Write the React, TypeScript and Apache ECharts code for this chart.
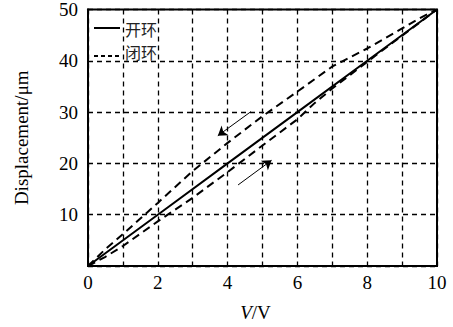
import React, { useEffect, useRef } from "react";
import * as echarts from "echarts";

const openV = [0, 2, 4, 6, 8, 10];
const openD = [0, 10, 20, 30, 40, 50];

const upV = [0, 0.5, 1, 2, 3, 4, 5, 6, 7, 8, 9, 9.5, 10];
const upD = [0, 3.3, 6.2, 12.3, 18.5, 24, 29.2, 34, 38.9, 42.4, 46.3, 48.3, 50];

const lowV = [0, 0.5, 1, 2, 3, 4, 5, 6, 6.5, 7, 8, 9, 10];
const lowD = [0, 1.8, 3.9, 8.7, 13.3, 18.3, 23.5, 28.6, 31.8, 34.6, 39.8, 44.9, 50];

const arrowDown = [[4.67, 30.1], [3.72, 25.4]];
const arrowUp = [[4.3, 15.8], [5.26, 20.6]];

const seriesNames = ["开环", "闭环"];

const zip = (xs: number[], ys: number[]) => xs.map((x, i) => [x, ys[i]]);

export default function App() {
  const ref = useRef<HTMLDivElement>(null);
  useEffect(() => {
    document.body.style.margin = "0";
    if (!ref.current) return;
    const chart = echarts.init(ref.current, undefined, { renderer: "svg" });
    const serif = "'Liberation Serif', 'Times New Roman', serif";
    const cjk = "Noto Sans CJK SC";
    const fs = 19;
    const gridLine = { show: true, lineStyle: { color: "#000", width: 1.3, type: [5, 4] as any } };
    chart.setOption({
      animation: false,
      backgroundColor: "#fff",
      grid: { left: 88, right: 16, top: 9, bottom: 56, show: true, borderColor: "#000", borderWidth: 2 },
      graphic: [
        { type: "line", shape: { x1: 94, y1: 28, x2: 120, y2: 28 }, style: { stroke: "#000", lineWidth: 2 }, z: 10 },
        { type: "line", shape: { x1: 94, y1: 56, x2: 122, y2: 56 }, style: { stroke: "#000", lineWidth: 2, lineDash: [4, 3] }, z: 10 },
        { type: "text", x: 125, y: 29, style: { text: seriesNames[0], font: `16px "${cjk}"`, fill: "#222", verticalAlign: "middle" }, z: 10 },
        { type: "text", x: 125, y: 52, style: { text: seriesNames[1], font: `16px "${cjk}"`, fill: "#222", verticalAlign: "middle" }, z: 10 },
      ],
      xAxis: {
        type: "value",
        min: 0,
        max: 10,
        interval: 1,
        name: "{i|V}/V",
        nameLocation: "middle",
        nameGap: 37,
        nameTextStyle: {
          fontFamily: serif,
          fontSize: fs,
          color: "#000",
          padding: [0, 14, 0, 0],
          rich: { i: { fontFamily: serif, fontSize: fs, fontStyle: "italic", color: "#000" } },
        },
        axisLine: { show: true, lineStyle: { color: "#000", width: 2 } },
        axisTick: { show: false },
        axisLabel: {
          margin: 7,
          fontFamily: serif,
          fontSize: fs,
          color: "#000",
          formatter: (v: number) => (v % 2 === 0 ? String(v) : ""),
        },
        splitLine: gridLine,
      },
      yAxis: {
        type: "value",
        min: 0,
        max: 50,
        interval: 10,
        name: "Displacement/μm",
        nameLocation: "middle",
        nameGap: 57,
        nameTextStyle: { fontFamily: serif, fontSize: fs, color: "#000" },
        axisLine: { show: true, lineStyle: { color: "#000", width: 2 } },
        axisTick: { show: false },
        axisLabel: { margin: 10, fontFamily: serif, fontSize: fs, color: "#000", showMinLabel: false },
        splitLine: gridLine,
      },
      series: [
        {
          name: seriesNames[0],
          type: "line",
          data: zip(openV, openD),
          symbol: "none",
          lineStyle: { color: "#000", width: 2 },
          z: 3,
        },
        {
          name: seriesNames[1],
          type: "line",
          data: zip(upV, upD),
          symbol: "none",
          lineStyle: { color: "#000", width: 2, type: [8, 5] },
          z: 2,
        },
        {
          name: seriesNames[1],
          type: "line",
          data: zip(lowV, lowD),
          symbol: "none",
          lineStyle: { color: "#000", width: 2, type: [8, 5] },
          z: 2,
        },
        {
          type: "lines",
          coordinateSystem: "cartesian2d",
          symbol: ["none", "arrow"],
          symbolSize: 9,
          lineStyle: { color: "#000", width: 1, opacity: 1 },
          data: [{ coords: arrowDown }, { coords: arrowUp }],
          z: 4,
        },
      ],
    });
    return () => chart.dispose();
  }, []);
  return <div ref={ref} style={{ width: 453, height: 327 }} />;
}
